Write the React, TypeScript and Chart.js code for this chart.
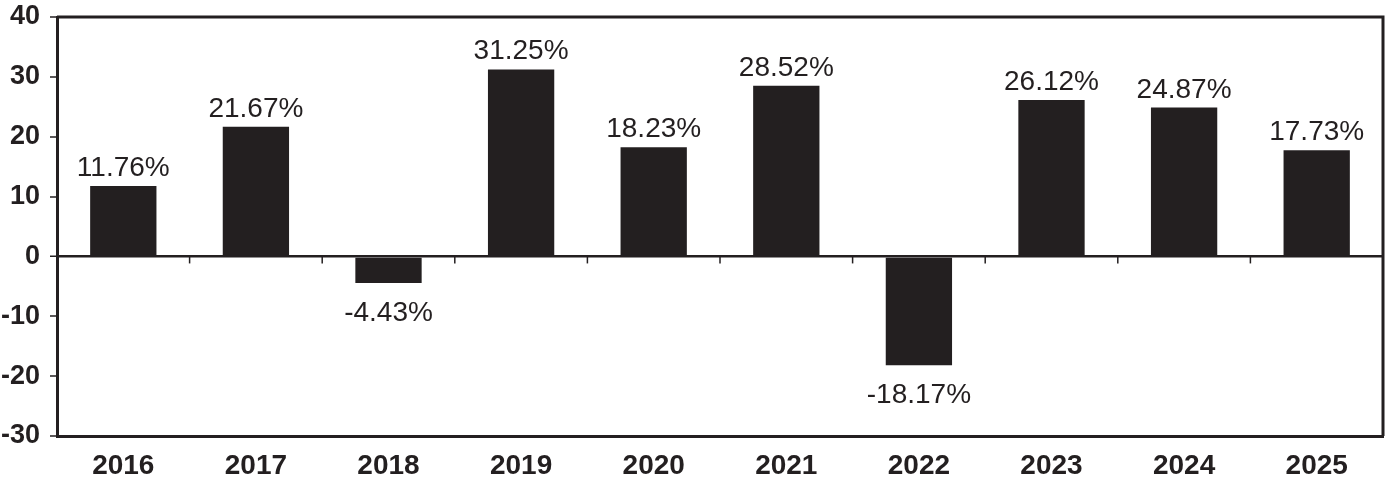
import React, { useEffect, useRef } from "react";
import { Chart, registerables } from "chart.js";

Chart.register(...registerables);

const categories = ["2016", "2017", "2018", "2019", "2020", "2021", "2022", "2023", "2024", "2025"];
const returns = [11.76, 21.67, -4.43, 31.25, 18.23, 28.52, -18.17, 26.12, 24.87, 17.73];
const yMin = -30;
const yMax = 40;
const yStep = 10;

const INK = "#231f20";
const FONT = "'Liberation Sans', Arial, Helvetica, sans-serif";

const framePlugin = {
  id: "frame",
  afterDraw(chart: any) {
    const { ctx, chartArea } = chart;
    const xs = chart.scales.x;
    const ys = chart.scales.y;
    ctx.save();
    ctx.strokeStyle = INK;
    ctx.lineWidth = 3;
    ctx.beginPath();
    ctx.moveTo(chartArea.left, chartArea.top);
    ctx.lineTo(chartArea.right, chartArea.top);
    ctx.lineTo(chartArea.right, chartArea.bottom);
    ctx.stroke();
    const y0 = ys.getPixelForValue(0);
    ctx.lineWidth = 1.5;
    for (let i = 1; i < categories.length; i++) {
      const x = xs.getPixelForValue(i - 0.5);
      ctx.beginPath();
      ctx.moveTo(x, y0);
      ctx.lineTo(x, y0 + 7);
      ctx.stroke();
    }
    ctx.restore();
  },
};

const labelPlugin = {
  id: "valueLabels",
  afterDatasetsDraw(chart: any) {
    const { ctx } = chart;
    const meta = chart.getDatasetMeta(0);
    ctx.save();
    ctx.fillStyle = INK;
    ctx.font = `28px ${FONT}`;
    ctx.textAlign = "center";
    ctx.textBaseline = "alphabetic";
    meta.data.forEach((bar: any, i: number) => {
      const v = returns[i];
      const text = v.toFixed(2) + "%";
      const y = v >= 0 ? bar.y - 10 : bar.y + 38;
      ctx.fillText(text, bar.x, y);
    });
    ctx.restore();
  },
};

export default function App() {
  const ref = useRef<HTMLCanvasElement | null>(null);
  useEffect(() => {
    if (!ref.current) return;
    const chart = new Chart(ref.current, {
      type: "bar",
      data: {
        labels: categories,
        datasets: [
          {
            data: returns,
            backgroundColor: INK,
            borderWidth: 0,
            barPercentage: 0.5,
            categoryPercentage: 1,
          },
        ],
      },
      options: {
        animation: false,
        responsive: false,
        maintainAspectRatio: false,
        layout: { padding: { top: 17, right: 3, left: 0, bottom: 0 } },
        plugins: { legend: { display: false }, tooltip: { enabled: false } },
        scales: {
          x: {
            grid: { display: false },
            border: { display: true, color: INK, width: 3 },
            ticks: {
              color: INK,
              font: { family: FONT, size: 28, weight: "bold" },
              padding: 5,
              maxRotation: 0,
            },
            afterFit(scale: any) {
              scale.height = 50;
              scale.paddingLeft = 0;
              scale.paddingRight = 0;
            },
          },
          y: {
            min: yMin,
            max: yMax,
            grid: {
              drawOnChartArea: true,
              drawTicks: true,
              tickLength: 7,
              color: (c: any) => (c.tick && c.tick.value === 0 ? INK : "rgba(0,0,0,0)"),
              lineWidth: (c: any) => (c.tick && c.tick.value === 0 ? 2.5 : 0),
              tickColor: INK,
              tickWidth: 1.5,
            },
            border: { display: true, color: INK, width: 3 },
            ticks: {
              stepSize: yStep,
              color: INK,
              font: { family: FONT, size: 27, weight: "bold" },
              padding: 10,
            },
            afterFit(scale: any) {
              scale.width = 57;
              scale.paddingTop = 0;
              scale.paddingBottom = 0;
            },
          },
        },
      },
      plugins: [framePlugin, labelPlugin],
    });
    return () => chart.destroy();
  }, []);
  return (
    <div style={{ position: "fixed", left: 0, top: 0, width: 1386, height: 486, background: "#fff" }}>
      <canvas ref={ref} width={1386} height={486} style={{ display: "block" }} />
    </div>
  );
}
